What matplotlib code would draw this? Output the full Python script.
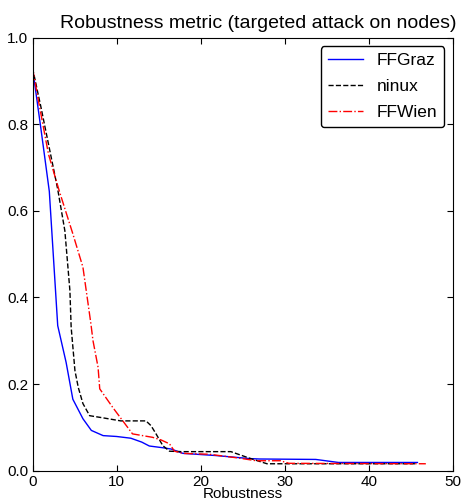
import matplotlib
matplotlib.use("Agg")
import matplotlib.pyplot as plt

plt.rcParams['font.family'] = ['Liberation Sans', 'DejaVu Sans']
plt.rcParams['xtick.direction'] = 'in'
plt.rcParams['ytick.direction'] = 'in'
plt.rcParams['xtick.top'] = True
plt.rcParams['ytick.right'] = True

# curves
graz_x = [0, 1, 2, 3, 4, 4.8, 6, 7, 8.4, 10, 11.7, 13, 13.9, 15.5, 16.5, 17.9, 21.8, 25.8, 27, 33.7, 36.4, 45.8]
graz_y = [0.93, 0.79, 0.645, 0.335, 0.25, 0.165, 0.12, 0.093, 0.081, 0.079, 0.075, 0.066, 0.057, 0.053, 0.05, 0.04, 0.035, 0.028, 0.027, 0.026, 0.019, 0.019]

ninux_x = [0, 1, 2, 3, 3.85, 4.45, 4.6, 5.05, 5.45, 6, 6.8, 8.4, 10.5, 13.5, 14.1, 14.7, 15.5, 16.3, 17.8, 23.6, 25.8, 27.9, 45.5]
ninux_y = [0.93, 0.84, 0.745, 0.65, 0.554, 0.416, 0.331, 0.231, 0.192, 0.155, 0.127, 0.122, 0.115, 0.115, 0.104, 0.085, 0.058, 0.045, 0.044, 0.044, 0.029, 0.016, 0.016]

wien_x = [0, 0.7, 1.9, 3.2, 4.8, 6, 6.95, 7.2, 7.8, 8, 9.55, 11.9, 14.3, 15.3, 16.3, 16.9, 17.9, 21, 24.6, 26.6, 29.5, 30.5, 46.8]
wien_y = [0.93, 0.855, 0.731, 0.645, 0.547, 0.47, 0.339, 0.3, 0.239, 0.189, 0.146, 0.085, 0.077, 0.071, 0.062, 0.045, 0.04, 0.038, 0.029, 0.023, 0.023, 0.017, 0.016]

fig = plt.figure(figsize=(4.63, 5.01), dpi=100)
ax = fig.add_axes([0.0702, 0.0605, 0.9076, 0.8643])

ax.plot(graz_x, graz_y, 'b-', lw=1, label='FFGraz')
ax.plot(ninux_x, ninux_y, 'k--', lw=1, label='ninux')
ax.plot(wien_x, wien_y, 'r-.', lw=1, label='FFWien')

ax.set_xlim(0, 50)
ax.set_ylim(0, 1.0)
ax.set_xticks([0, 10, 20, 30, 40, 50])
ax.set_yticks([0.0, 0.2, 0.4, 0.6, 0.8, 1.0])
ax.set_yticklabels(['0.0', '0.2', '0.4', '0.6', '0.8', '1.0'])
ax.tick_params(labelsize=11, length=4, pad=3)
ax.set_xlabel('Robustness', fontsize=11, labelpad=-1)
ax.set_title('Robustness metric (targeted attack on nodes)', fontsize=14, x=0.538, pad=7)
ax.legend(loc='upper right', fontsize=12.5, fancybox=True, framealpha=1, edgecolor='black',
          borderaxespad=0.5, labelspacing=0.62)

fig.savefig('out.png', dpi=100)
